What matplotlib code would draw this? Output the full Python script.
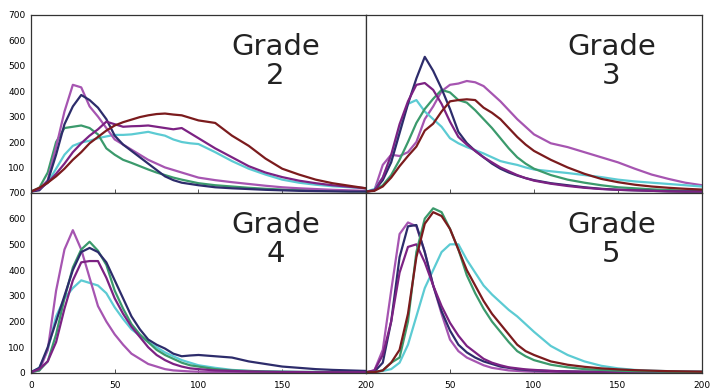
# Grade distributions, four panels glued together
import numpy as np
import matplotlib.pyplot as plt

# %%
# x grid shared by all curves
x = [0, 5, 10, 15, 20, 25, 30, 35, 40, 45, 50, 55, 60, 65, 70, 75, 80, 85, 90, 95, 100,
     110, 120, 130, 140, 150, 160, 170, 180, 190, 200]

# Grade 2
g2_orchid = [5, 15, 50, 180, 320, 425, 415, 340, 300, 255, 210, 190, 170, 150, 130, 115, 100, 90, 80, 70, 60,
             50, 42, 35, 28, 22, 18, 15, 12, 10, 8]
g2_navy = [5, 10, 45, 150, 270, 340, 385, 365, 335, 290, 225, 190, 165, 140, 115, 90, 65, 50, 40, 35, 30,
           22, 18, 15, 12, 10, 8, 7, 6, 5, 5]
g2_green = [5, 20, 80, 200, 255, 260, 265, 255, 230, 175, 150, 130, 118, 105, 92, 80, 70, 60, 52, 45, 38,
            30, 25, 20, 16, 13, 11, 9, 8, 7, 6]
g2_cyan = [5, 15, 40, 95, 150, 185, 198, 205, 215, 222, 228, 228, 230, 235, 240, 232, 225, 210, 200, 195, 192,
           160, 125, 95, 72, 52, 40, 32, 26, 22, 18]
g2_purple = [5, 15, 40, 75, 115, 160, 195, 225, 250, 280, 270, 260, 262, 263, 265, 260, 255, 250, 255, 235, 215,
             175, 140, 105, 80, 62, 48, 38, 30, 24, 18]
g2_darkred = [5, 20, 40, 65, 95, 130, 160, 195, 220, 245, 265, 278, 288, 298, 305, 310, 312, 308, 305, 295, 285,
              275, 225, 185, 135, 95, 72, 52, 38, 28, 18]

# Grade 3
g3_orchid = [5, 10, 110, 150, 145, 160, 200, 290, 340, 400, 425, 430, 440, 435, 420, 390, 360, 325, 290, 260, 230,
             195, 180, 160, 140, 120, 95, 72, 55, 40, 30]
g3_navy = [5, 10, 50, 120, 235, 350, 450, 535, 480, 410, 330, 240, 196, 165, 140, 115, 95, 80, 68, 58, 50,
           38, 30, 22, 16, 12, 10, 8, 6, 5, 5]
g3_green = [5, 10, 30, 70, 130, 200, 275, 330, 370, 405, 395, 365, 355, 325, 290, 255, 215, 175, 140, 115, 95,
            70, 52, 40, 30, 22, 18, 14, 11, 9, 8]
g3_cyan = [5, 15, 60, 140, 260, 350, 365, 320, 290, 260, 215, 195, 180, 168, 155, 140, 125, 117, 110, 100, 92,
           85, 78, 70, 62, 52, 45, 40, 35, 30, 25]
g3_purple = [5, 10, 60, 150, 270, 360, 425, 432, 405, 350, 280, 220, 190, 165, 140, 120, 100, 85, 70, 58, 48,
             36, 27, 20, 15, 12, 10, 8, 6, 5, 5]
g3_darkred = [5, 8, 25, 60, 105, 145, 182, 245, 272, 320, 360, 365, 368, 365, 335, 315, 290, 255, 220, 190, 165,
              130, 100, 75, 55, 42, 32, 25, 20, 16, 13]

# Grade 4
g4_orchid = [3, 10, 90, 320, 480, 555, 480, 370, 260, 200, 150, 110, 75, 55, 35, 25, 15, 10, 8, 6, 5,
             4, 4, 3, 3, 3, 3, 3, 3, 3, 3]
g4_navy = [3, 20, 100, 200, 300, 400, 470, 486, 470, 430, 360, 290, 220, 170, 130, 110, 95, 75, 65, 68, 70,
           65, 60, 45, 35, 25, 20, 15, 12, 10, 8]
g4_green = [3, 10, 45, 150, 290, 410, 480, 510, 475, 420, 320, 250, 190, 150, 120, 90, 70, 55, 40, 30, 25,
            15, 10, 8, 6, 5, 4, 4, 3, 3, 3]
g4_cyan = [3, 20, 90, 220, 290, 330, 360, 350, 340, 310, 255, 210, 170, 145, 120, 100, 80, 65, 50, 40, 30,
           20, 12, 8, 6, 5, 4, 4, 3, 3, 3]
g4_purple = [3, 15, 45, 120, 250, 360, 430, 435, 435, 370, 290, 230, 180, 140, 100, 70, 50, 35, 25, 18, 15,
             10, 8, 6, 5, 4, 4, 3, 3, 3, 3]

# Grade 5
g5_orchid = [3, 10, 90, 320, 540, 585, 570, 470, 340, 230, 130, 85, 60, 45, 30, 20, 15, 10, 8, 6, 5,
             4, 4, 3, 3, 3, 3, 3, 3, 3, 3]
g5_navy = [3, 5, 40, 200, 450, 570, 575, 470, 340, 240, 165, 110, 80, 60, 45, 35, 25, 20, 15, 12, 10,
           8, 6, 5, 5, 4, 4, 4, 4, 4, 4]
g5_green = [3, 3, 10, 40, 60, 200, 470, 600, 640, 625, 560, 480, 380, 310, 250, 200, 160, 120, 85, 65, 50,
            32, 22, 15, 12, 9, 7, 6, 5, 4, 4]
g5_cyan = [3, 3, 8, 15, 40, 110, 220, 330, 400, 470, 500, 500, 440, 390, 340, 305, 275, 245, 220, 190, 160,
           105, 70, 45, 28, 18, 12, 9, 7, 6, 5]
g5_purple = [3, 10, 70, 200, 390, 490, 500, 430, 340, 260, 195, 145, 105, 80, 55, 40, 30, 22, 18, 14, 12,
             8, 6, 5, 5, 4, 4, 4, 4, 4, 4]
g5_darkred = [3, 3, 10, 40, 90, 230, 450, 580, 625, 610, 560, 480, 400, 340, 280, 230, 190, 150, 110, 85, 70,
              45, 32, 24, 18, 14, 11, 9, 7, 6, 5]

grades = ['2', '3', '4', '5']

# colours of each series
c_orchid = '#a655b1'
c_navy = '#2d2c6b'
c_green = '#3b9a6c'
c_cyan = '#5ccbd3'
c_purple = '#7c2283'
c_darkred = '#7b1b1d'

panels = [
    [(g2_cyan, c_cyan), (g2_green, c_green), (g2_orchid, c_orchid), (g2_navy, c_navy),
     (g2_purple, c_purple), (g2_darkred, c_darkred)],
    [(g3_orchid, c_orchid), (g3_cyan, c_cyan), (g3_green, c_green), (g3_navy, c_navy),
     (g3_purple, c_purple), (g3_darkred, c_darkred)],
    [(g4_cyan, c_cyan), (g4_orchid, c_orchid), (g4_green, c_green), (g4_navy, c_navy),
     (g4_purple, c_purple)],
    [(g5_cyan, c_cyan), (g5_orchid, c_orchid), (g5_navy, c_navy), (g5_purple, c_purple),
     (g5_green, c_green), (g5_darkred, c_darkred)],
]

# %%
fig = plt.figure(figsize=(7.12, 3.92), dpi=100)

# axes boxes in figure fractions: [left, bottom, width, height]
boxes = [[0.0435, 0.508, 0.4705, 0.454],
         [0.514, 0.508, 0.472, 0.454],
         [0.0435, 0.0485, 0.4705, 0.4595],
         [0.514, 0.0485, 0.472, 0.4595]]

for i, box in enumerate(boxes):
    ax = fig.add_axes(box)
    for vals, col in panels[i]:
        ax.plot(x, vals, color=col, linewidth=1.6)
    ax.set_xlim(0, 200)
    ax.set_ylim(0, 700)
    ax.set_xticks([0, 50, 100, 150, 200])
    ax.set_yticks(range(0, 800, 100))
    for s in ax.spines.values():
        s.set_color('#333333')
        s.set_linewidth(0.9)
    ax.tick_params(axis='x', direction='in', length=3, width=0.7, color='#555555',
                   labelsize=6.5, pad=6)
    ax.tick_params(axis='y', length=0, labelsize=6.5, pad=4)

    # only the left panels have y labels, only the bottom ones x labels
    if i in (1, 3):
        ax.set_yticklabels([])
    elif i == 0:
        ax.set_yticklabels([''] + [str(v) for v in range(100, 800, 100)])
    if i in (0, 1):
        ax.set_xticklabels([])
    elif i == 3:
        ax.set_xticklabels(['', '50', '100', '150', '200'])

    ax.text(0.73, 0.90, 'Grade\n' + grades[i], transform=ax.transAxes,
            ha='center', va='top', fontsize=21, color='#222222', linespacing=1.05)

fig.savefig('out.png', dpi=100)
